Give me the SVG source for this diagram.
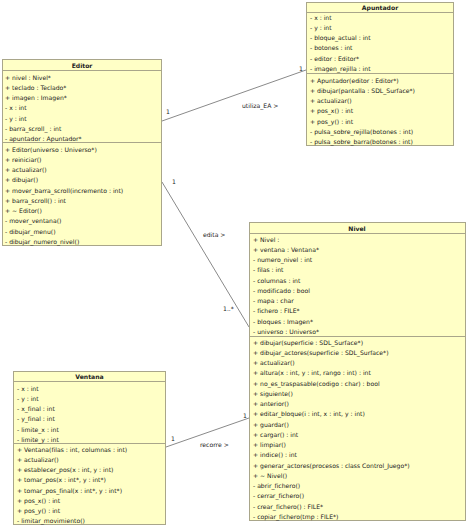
<svg xmlns="http://www.w3.org/2000/svg" width="467" height="525" viewBox="0 0 467 525">
<style>
.box{fill:#ffffc6;stroke:#a9a68a;stroke-width:1}
.sep{stroke:#a9a68a;stroke-width:1}
text{font-family:"DejaVu Sans","Liberation Sans",sans-serif;font-size:6.1px;fill:#222}
.title{font-weight:bold;text-anchor:middle}
.conn{stroke:#8a8a8a;stroke-width:1;fill:none}
</style>
<rect width="467" height="525" fill="#ffffff"/>
<g id="connectors">
<line class="conn" x1="162" y1="121" x2="306" y2="70"/>
<line class="conn" x1="162" y1="182" x2="249" y2="327"/>
<line class="conn" x1="166" y1="447" x2="249" y2="418"/>
<text x="166" y="114">1</text>
<text x="299" y="71">1</text>
<text x="242" y="108">utiliza_EA &gt;</text>
<text x="172" y="184">1</text>
<text x="203" y="237">edita &gt;</text>
<text x="223" y="311">1..*</text>
<text x="171" y="441">1</text>
<text x="243" y="418">1</text>
<text x="200" y="447">recorre &gt;</text>
</g>
<g id="Apuntador">
<rect class="box" x="306.5" y="2.5" width="147" height="143"/>
<line class="sep" x1="306.5" y1="12.5" x2="453.5" y2="12.5"/>
<line class="sep" x1="306.5" y1="73.5" x2="453.5" y2="73.5"/>
<text class="title" x="380" y="10">Apuntador</text>
<text x="310" y="19.5">- x : int</text>
<text x="310" y="29.75">- y : int</text>
<text x="310" y="40">- bloque_actual : int</text>
<text x="310" y="50.25">- botones : int</text>
<text x="310" y="60.5">- editor : Editor*</text>
<text x="310" y="70.75">- imagen_rejilla : int</text>
<text x="310" y="82.5">+ Apuntador(editor : Editor*)</text>
<text x="310" y="92.75">+ dibujar(pantalla : SDL_Surface*)</text>
<text x="310" y="103">+ actualizar()</text>
<text x="310" y="113.25">+ pos_x() : int</text>
<text x="310" y="123.5">+ pos_y() : int</text>
<text x="310" y="133.75">- pulsa_sobre_rejilla(botones : int)</text>
<text x="310" y="144">- pulsa_sobre_barra(botones : int)</text>
</g>
<g id="Editor">
<rect class="box" x="2.5" y="59.5" width="159" height="186"/>
<line class="sep" x1="2.5" y1="70.5" x2="161.5" y2="70.5"/>
<line class="sep" x1="2.5" y1="142.5" x2="161.5" y2="142.5"/>
<text class="title" x="82" y="68">Editor</text>
<text x="5" y="79.5">+ nivel : Nivel*</text>
<text x="5" y="89.75">+ teclado : Teclado*</text>
<text x="5" y="100">+ imagen : Imagen*</text>
<text x="5" y="110.25">- x : int</text>
<text x="5" y="120.5">- y : int</text>
<text x="5" y="130.75">- barra_scroll_ : int</text>
<text x="5" y="141">- apuntador : Apuntador*</text>
<text x="5" y="151.5">+ Editor(universo : Universo*)</text>
<text x="5" y="161.75">+ reiniciar()</text>
<text x="5" y="172">+ actualizar()</text>
<text x="5" y="182.25">+ dibujar()</text>
<text x="5" y="192.5">+ mover_barra_scroll(incremento : int)</text>
<text x="5" y="202.75">+ barra_scroll() : int</text>
<text x="5" y="213">+ ~ Editor()</text>
<text x="5" y="223.25">- mover_ventana()</text>
<text x="5" y="233.5">- dibujar_menu()</text>
<text x="5" y="243.75">- dibujar_numero_nivel()</text>
</g>
<g id="Nivel">
<rect class="box" x="249.5" y="222.5" width="216" height="298"/>
<line class="sep" x1="249.5" y1="233.5" x2="465.5" y2="233.5"/>
<line class="sep" x1="249.5" y1="336.5" x2="465.5" y2="336.5"/>
<text class="title" x="357" y="230.5">Nivel</text>
<text x="253" y="241.5">+ Nivel :</text>
<text x="253" y="251.75">+ ventana : Ventana*</text>
<text x="253" y="262">- numero_nivel : int</text>
<text x="253" y="272.25">- filas : int</text>
<text x="253" y="282.5">- columnas : int</text>
<text x="253" y="292.75">- modificado : bool</text>
<text x="253" y="303">- mapa : char</text>
<text x="253" y="313.25">- fichero : FILE*</text>
<text x="253" y="323.5">- bloques : Imagen*</text>
<text x="253" y="333.75">- universo : Universo*</text>
<text x="253" y="344.5">+ dibujar(superficie : SDL_Surface*)</text>
<text x="253" y="354.75">+ dibujar_actores(superficie : SDL_Surface*)</text>
<text x="253" y="365">+ actualizar()</text>
<text x="253" y="375.25">+ altura(x : int, y : int, rango : int) : int</text>
<text x="253" y="385.5">+ no_es_traspasable(codigo : char) : bool</text>
<text x="253" y="395.75">+ siguiente()</text>
<text x="253" y="406">+ anterior()</text>
<text x="253" y="416.25">+ editar_bloque(i : int, x : int, y : int)</text>
<text x="253" y="426.5">+ guardar()</text>
<text x="253" y="436.75">+ cargar() : int</text>
<text x="253" y="447">+ limpiar()</text>
<text x="253" y="457.25">+ indice() : int</text>
<text x="253" y="467.5">+ generar_actores(procesos : class Control_Juego*)</text>
<text x="253" y="477.75">+ ~ Nivel()</text>
<text x="253" y="488">- abrir_fichero()</text>
<text x="253" y="498.25">- cerrar_fichero()</text>
<text x="253" y="508.5">- crear_fichero() : FILE*</text>
<text x="253" y="518.75">- copiar_fichero(tmp : FILE*)</text>
</g>
<g id="Ventana">
<rect class="box" x="13.5" y="371.5" width="152" height="153"/>
<line class="sep" x1="13.5" y1="381.5" x2="165.5" y2="381.5"/>
<line class="sep" x1="13.5" y1="443.5" x2="165.5" y2="443.5"/>
<text class="title" x="89.5" y="379">Ventana</text>
<text x="17" y="390.5">- x : int</text>
<text x="17" y="400.75">- y : int</text>
<text x="17" y="411">- x_final : int</text>
<text x="17" y="421.25">- y_final : int</text>
<text x="17" y="431.5">- limite_x : int</text>
<text x="17" y="441.75">- limite_y : int</text>
<text x="17" y="451.5">+ Ventana(filas : int, columnas : int)</text>
<text x="17" y="461.75">+ actualizar()</text>
<text x="17" y="472">+ establecer_pos(x : int, y : int)</text>
<text x="17" y="482.25">+ tomar_pos(x : int*, y : int*)</text>
<text x="17" y="492.5">+ tomar_pos_final(x : int*, y : int*)</text>
<text x="17" y="502.75">+ pos_x() : int</text>
<text x="17" y="513">+ pos_y() : int</text>
<text x="17" y="523.25">- limitar_movimiento()</text>
</g>
</svg>
